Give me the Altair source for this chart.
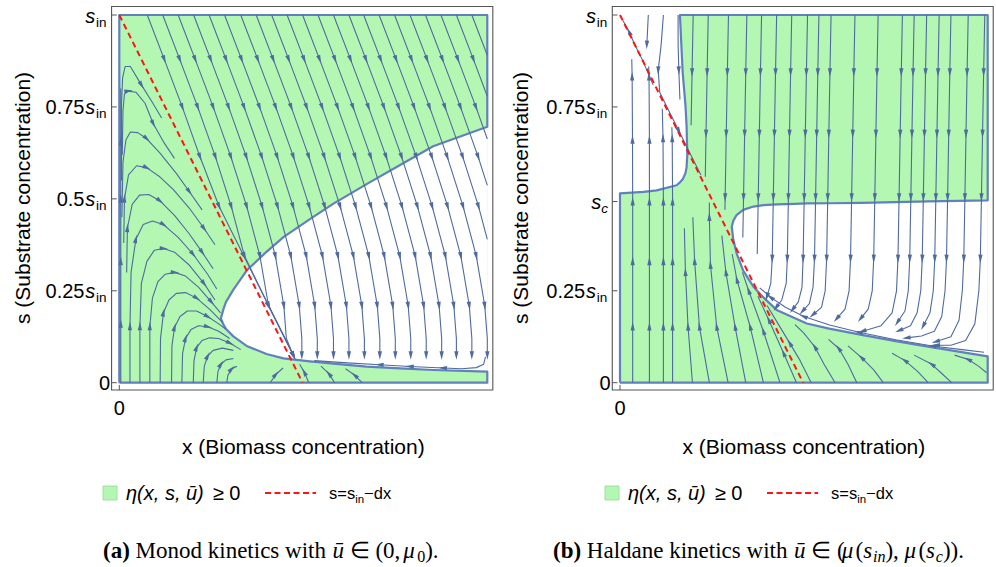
import math
import numpy as np
import pandas as pd
import altair as alt

SANS = "Liberation Sans"
SERIF = "Liberation Serif"
GREEN = "#b3f7b3"
EDGE = "#6180bd"
FLOW = "#4f6a9f"
RED = "#ff1414"
FRAME = "#555555"
ARROW_PATH = "M0,-1L0.45,0.8L-0.45,0.8Z"

# plot frame and the invariant line s = s_in - d x (x in units of x_max, s in units of s_in)
FRAME_X = [-0.021, 1.015]
FRAME_S = [-0.02, 1.023]
DILUTION_X = [0.0, 0.498]
DILUTION_S = [1.0, 0.0]

# ---------------- (a) Monod ----------------
# the white pocket where eta < 0: lower and upper branch over x
MONOD_HOLE_X = [0.276, 0.283, 0.29, 0.31, 0.346, 0.40, 0.446, 0.518, 0.582, 0.672, 0.763, 0.853, 1.0]
MONOD_HOLE_LO = [0.175, 0.158, 0.146, 0.126, 0.1, 0.078, 0.066, 0.058, 0.052, 0.0435, 0.039, 0.0345, 0.030]
MONOD_HOLE_HI = [0.175, 0.20, 0.22, 0.253, 0.305, 0.356, 0.396, 0.445, 0.487, 0.54, 0.592, 0.643, 0.696]

# streamlines entering from the top edge: start x and the common drift read along one of them
MONOD_TOP_X0 = [0.076, 0.118, 0.16, 0.202, 0.244, 0.286, 0.33, 0.372, 0.414, 0.456, 0.498,
                0.54, 0.582, 0.624, 0.664, 0.706, 0.748, 0.79, 0.832, 0.874, 0.916, 0.958]
MONOD_PROF_S = [1.0, 0.88, 0.75, 0.615, 0.48, 0.345, 0.21, 0.12, 0.075]
MONOD_PROF_DX = [0.0, 0.046, 0.095, 0.143, 0.186, 0.222, 0.245, 0.252, 0.252]
MONOD_PROF_ARROW = [0, 1, 1, 1, 1, 1, 1, 0, 1]

# arcs rising from the axis and bending toward the dilution line: (points, arrow indices)
MONOD_ARCS = [
    ([(0.004, 0.0), (0.004, 0.16), (0.004, 0.33), (0.004, 0.5), (0.004, 0.655), (0.004, 0.80)], [1, 2, 3, 4]),
    ([(0.006, 0.55), (0.006, 0.76), (0.009, 0.83), (0.016, 0.86), (0.03, 0.86), (0.06, 0.81), (0.09, 0.762), (0.115, 0.72)], [5]),
    ([(0.008, 0.62), (0.01, 0.74), (0.014, 0.785), (0.024, 0.793), (0.045, 0.79), (0.07, 0.76), (0.092, 0.705), (0.12, 0.655), (0.15, 0.61)], [3, 6]),
    ([(0.007, 0.45), (0.01, 0.6), (0.018, 0.66), (0.03, 0.682), (0.05, 0.68), (0.074, 0.664), (0.11, 0.625), (0.156, 0.568), (0.19, 0.52), (0.225, 0.47)], [5, 8]),
    ([(0.012, 0.38), (0.014, 0.5), (0.025, 0.565), (0.047, 0.59), (0.074, 0.585), (0.11, 0.56), (0.147, 0.525), (0.19, 0.475), (0.23, 0.42), (0.26, 0.375)], [1, 4, 8]),
    ([(0.02, 0.30), (0.022, 0.42), (0.035, 0.485), (0.055, 0.51), (0.08, 0.512), (0.11, 0.495), (0.15, 0.455), (0.19, 0.405), (0.225, 0.355), (0.255, 0.31)], [1, 5, 8]),
    ([(0.029, 0.0), (0.029, 0.153), (0.032, 0.30), (0.045, 0.39), (0.065, 0.43), (0.09, 0.44), (0.12, 0.43), (0.16, 0.395), (0.2, 0.35), (0.24, 0.295), (0.265, 0.255)], [1, 3, 6, 8]),
    ([(0.056, 0.0), (0.056, 0.153), (0.06, 0.27), (0.075, 0.33), (0.095, 0.36), (0.12, 0.365), (0.15, 0.355), (0.19, 0.32), (0.23, 0.27), (0.26, 0.225)], [1, 5, 8]),
    ([(0.083, 0.0), (0.083, 0.153), (0.09, 0.23), (0.105, 0.275), (0.125, 0.295), (0.15, 0.30), (0.18, 0.29), (0.215, 0.26), (0.25, 0.22), (0.275, 0.19)], [1, 5, 8]),
    ([(0.111, 0.0), (0.112, 0.12), (0.12, 0.19), (0.135, 0.225), (0.155, 0.243), (0.18, 0.245), (0.21, 0.23), (0.245, 0.2), (0.28, 0.165)], [2, 6]),
    ([(0.142, 0.0), (0.143, 0.1), (0.15, 0.15), (0.165, 0.18), (0.185, 0.195), (0.21, 0.195), (0.24, 0.18), (0.27, 0.16), (0.29, 0.145)], [2, 6]),
    ([(0.17, 0.0), (0.172, 0.08), (0.18, 0.12), (0.195, 0.145), (0.215, 0.155), (0.24, 0.152), (0.27, 0.14), (0.3, 0.12)], [2, 5]),
    ([(0.201, 0.0), (0.203, 0.06), (0.21, 0.095), (0.225, 0.115), (0.245, 0.122), (0.27, 0.12), (0.3, 0.108), (0.33, 0.09)], [2, 6]),
    ([(0.228, 0.0), (0.231, 0.045), (0.24, 0.072), (0.255, 0.088), (0.28, 0.094), (0.31, 0.088)], [2]),
    ([(0.265, 0.0), (0.268, 0.03), (0.276, 0.05), (0.29, 0.062), (0.31, 0.066)], [2]),
    ([(0.292, 0.0), (0.295, 0.02), (0.305, 0.037), (0.32, 0.045)], [2]),
    # thin band under the lower branch and the flow along it
    ([(0.41, 0.0), (0.425, 0.022), (0.445, 0.04)], [1]),
    ([(0.515, 0.0), (0.503, 0.028), (0.49, 0.05)], [1]),
    ([(0.585, 0.0), (0.57, 0.024), (0.548, 0.045)], [1]),
    ([(0.66, 0.0), (0.64, 0.02), (0.615, 0.038)], [1]),
    ([(0.995, 0.07), (0.99, 0.05), (0.97, 0.041), (0.93, 0.038), (0.88, 0.04), (0.79, 0.044), (0.708, 0.049), (0.62, 0.054), (0.53, 0.06)], [4, 5, 6]),
]

MONOD_TICK_S = [0.25, 0.5, 0.75, 1.0]
MONOD_TICK_NUM = ["0.25", "0.5", "0.75", ""]

# ---------------- (b) Haldane ----------------
HAL_HOLE_B_X = [0.304, 0.308, 0.317, 0.335, 0.363, 0.39, 0.426, 0.476, 0.508, 0.569, 0.657, 0.75, 0.838, 1.0]
HAL_HOLE_B_LO = [0.424, 0.39, 0.352, 0.305, 0.261, 0.232, 0.198, 0.175, 0.161, 0.147, 0.13, 0.113, 0.098, 0.0716]
HAL_HOLE_B_HI = [0.424, 0.44, 0.456, 0.47, 0.479, 0.483, 0.485, 0.4865, 0.4875, 0.488, 0.489, 0.491, 0.493, 0.496]
HAL_HOLE_A_X = [0.0, 0.064, 0.1, 0.154, 0.163, 0.1705, 0.178, 0.181, 0.183]
HAL_HOLE_A_LO = [0.515, 0.519, 0.523, 0.537, 0.545, 0.553, 0.57, 0.585, 0.62]
HAL_HOLE_A_HI = [1.0, 1.0, 1.0, 1.0, 1.0, 0.843, 0.755, 0.70, 0.62]

# nearly vertical streamlines from the top edge
HAL_TOP_X0 = [0.199, 0.24, 0.295, 0.345, 0.385, 0.426, 0.467, 0.51, 0.541, 0.574,
              0.639, 0.702, 0.768, 0.80, 0.834, 0.868, 0.90, 0.947, 0.992]
HAL_TOP_S = [1.0, 0.845, 0.678, 0.505, 0.338]
HAL_TOP_DRIFT = [0.0, 0.003, 0.006, 0.009, 0.012]
HAL_TOP_STOP = [0.70, 0.56, 0.47, 0.395, 0.35, 0.338, 0.338, 0.338, 0.338, 0.338,
                0.338, 0.338, 0.338, 0.338, 0.338, 0.338, 0.338, 0.338, 0.338]
HAL_TOP_TAIL = [
    [], [], [], [], [],
    [(0.41, 0.27), (0.40, 0.235)],
    [(0.452, 0.27), (0.44, 0.225), (0.425, 0.205)],
    [(0.495, 0.26), (0.485, 0.22), (0.47, 0.2)],
    [(0.525, 0.26), (0.515, 0.215), (0.497, 0.195)],
    [(0.558, 0.25), (0.548, 0.205), (0.525, 0.185)],
    [(0.623, 0.25), (0.612, 0.2), (0.59, 0.175)],
    [(0.686, 0.25), (0.675, 0.2), (0.655, 0.175)],
    [(0.752, 0.25), (0.74, 0.19), (0.71, 0.155), (0.66, 0.14)],
    [(0.784, 0.25), (0.775, 0.195), (0.755, 0.165)],
    [(0.818, 0.25), (0.808, 0.19), (0.79, 0.155), (0.76, 0.142)],
    [(0.852, 0.25), (0.843, 0.19), (0.825, 0.155)],
    [(0.884, 0.25), (0.875, 0.18), (0.855, 0.14), (0.82, 0.127), (0.78, 0.122)],
    [(0.931, 0.25), (0.922, 0.17), (0.9, 0.125), (0.86, 0.112)],
    [(0.976, 0.25), (0.965, 0.16), (0.94, 0.115), (0.9, 0.102), (0.86, 0.102)],
]

HAL_OTHER = [
    ([(0.0345, 0.0), (0.0345, 0.152), (0.0345, 0.33), (0.0345, 0.492), (0.034, 0.66), (0.033, 0.832), (0.032, 0.88)], [1, 2, 3, 4, 5]),
    ([(0.08, 0.0), (0.08, 0.152), (0.08, 0.33), (0.08, 0.492), (0.08, 0.66), (0.079, 0.832), (0.078, 0.86)], [1, 2, 3, 4, 5]),
    ([(0.118, 0.0), (0.118, 0.152), (0.118, 0.33), (0.118, 0.492), (0.117, 0.664), (0.115, 0.745)], [1, 2, 3, 4]),
    ([(0.143, 0.0), (0.143, 0.152), (0.143, 0.33), (0.143, 0.492), (0.142, 0.664), (0.141, 0.695)], [1, 2, 3, 4]),
    ([(0.197, 0.0), (0.185, 0.152), (0.178, 0.30), (0.175, 0.42)], [1, 2]),
    ([(0.243, 0.0), (0.216, 0.152), (0.203, 0.33), (0.198, 0.45)], [1, 2]),
    ([(0.294, 0.0), (0.263, 0.152), (0.246, 0.32), (0.243, 0.45), (0.243, 0.49)], [1, 2, 3]),
    ([(0.342, 0.0), (0.313, 0.152), (0.288, 0.30), (0.277, 0.40)], [1, 2]),
    ([(0.39, 0.0), (0.354, 0.152), (0.318, 0.28), (0.305, 0.35)], [1, 2]),
    ([(0.435, 0.0), (0.39, 0.14), (0.35, 0.25), (0.333, 0.30)], [1, 2]),
    ([(0.48, 0.0), (0.445, 0.08), (0.405, 0.17), (0.375, 0.235)], [1, 2]),
    ([(0.52, 0.0), (0.49, 0.06), (0.462, 0.107), (0.43, 0.16), (0.40, 0.21)], [2]),
    ([(0.585, 0.0), (0.555, 0.05), (0.53, 0.097), (0.5, 0.135), (0.476, 0.158)], [2]),
    ([(0.644, 0.0), (0.62, 0.05), (0.595, 0.093), (0.567, 0.118)], [2]),
    ([(0.716, 0.0), (0.69, 0.035), (0.657, 0.068), (0.62, 0.1)], [2]),
    ([(0.838, 0.0), (0.81, 0.03), (0.775, 0.06), (0.74, 0.08)], [2]),
    ([(0.902, 0.0), (0.875, 0.025), (0.848, 0.05), (0.80, 0.075)], [2]),
    ([(0.997, 0.027), (0.975, 0.045), (0.947, 0.063), (0.91, 0.075)], [2]),
    ([(0.99, 0.083), (0.93, 0.09), (0.85, 0.1), (0.75, 0.117), (0.65, 0.137), (0.57, 0.157), (0.5, 0.18), (0.45, 0.205), (0.41, 0.232), (0.38, 0.258)], [2, 4, 6, 8]),
    ([(0.077, 1.0), (0.075, 0.96), (0.073, 0.92)], [2]),
    ([(0.118, 1.0), (0.112, 0.92), (0.104, 0.85), (0.108, 0.79), (0.13, 0.745), (0.16, 0.685), (0.19, 0.625), (0.22, 0.565)], [2, 5]),
    ([(0.158, 1.0), (0.158, 0.92), (0.16, 0.85), (0.163, 0.77)], [2]),
    ([(0.09, 0.81), (0.06, 0.88), (0.04, 0.92), (0.025, 0.954), (0.008, 0.985)], [3]),
]

HAL_TICK_S = [0.25, 0.75, 1.0]
HAL_TICK_NUM = ["0.25", "0.75", ""]
HAL_SC = [0.4927]

X_TITLE = "x (Biomass concentration)"
Y_TITLE = "s (Substrate concentration)"
CAPTION_A = [("(a)", "normal", "bold", 1.0, 0), (" Monod kinetics with ", "normal", "normal", 1.0, 0),
             ("ū", "italic", "normal", 1.0, 0), (" ∈ (0, ", "normal", "normal", 1.0, 0),
             ("μ", "italic", "normal", 1.0, 0), ("0", "normal", "normal", 0.7, 4), (").", "normal", "normal", 1.0, 0)]
CAPTION_B = [("(b)", "normal", "bold", 1.0, 0), (" Haldane kinetics with ", "normal", "normal", 1.0, 0),
             ("ū", "italic", "normal", 1.0, 0), (" ∈ (", "normal", "normal", 1.0, 0),
             ("μ", "italic", "normal", 1.0, 0), ("(", "normal", "normal", 1.0, 0),
             ("s", "italic", "normal", 1.0, 0), ("in", "italic", "normal", 0.7, 4),
             ("), ", "normal", "normal", 1.0, 0), ("μ", "italic", "normal", 1.0, 0),
             ("(", "normal", "normal", 1.0, 0), ("s", "italic", "normal", 1.0, 0),
             ("c", "italic", "normal", 0.7, 4), (")).", "normal", "normal", 1.0, 0)]

# approximate advance widths (em) used to butt mixed-style text runs together
SERIF_EM = {" ": 0.25, "(": 0.333, ")": 0.333, ",": 0.25, ".": 0.25, "0": 0.5, "a": 0.444, "b": 0.5,
            "c": 0.444, "d": 0.5, "e": 0.444, "h": 0.5, "i": 0.278, "k": 0.5, "l": 0.278, "n": 0.5,
            "o": 0.5, "s": 0.42, "t": 0.278, "w": 0.722, "M": 0.889, "H": 0.722, "∈": 0.75,
            "μ": 0.6, "ū": 0.5}
SERIF_BOLD_EM = {"(": 0.333, ")": 0.333, "a": 0.5, "b": 0.556}
SANS_EM = {" ": 0.278, "(": 0.333, ")": 0.333, ",": 0.278, "x": 0.5, "s": 0.5, "η": 0.556,
           "ū": 0.556, "≥": 0.584, "0": 0.556, "=": 0.584, "i": 0.222, "n": 0.556, "−": 0.584, "d": 0.556}


def text_width(text, size, table, fallback=0.5):
    return sum(table.get(ch, fallback) for ch in text) * size


def red_x(s):
    return DILUTION_X[1] * (1.0 - s)


def monod_top_lines():
    lines = []
    for x0 in MONOD_TOP_X0:
        pts, arr = [], []
        for k, (s, dx) in enumerate(zip(MONOD_PROF_S, MONOD_PROF_DX)):
            x = max(x0 + dx, red_x(s) + 0.012)
            if x >= MONOD_HOLE_X[0] and s < np.interp(x, MONOD_HOLE_X, MONOD_HOLE_LO) + 0.006:
                break
            if x > 1.0:
                px, ps = pts[-1]
                t = (1.0 - px) / (x - px)
                pts.append((1.0, ps + t * (s - ps)))
                break
            pts.append((x, s))
            if MONOD_PROF_ARROW[k]:
                arr.append(len(pts) - 1)
        lines.append((pts, arr))
    return lines


def haldane_top_lines():
    lines = []
    for x0, stop, tail in zip(HAL_TOP_X0, HAL_TOP_STOP, HAL_TOP_TAIL):
        pts, arr = [], []
        for k, (s, d) in enumerate(zip(HAL_TOP_S, HAL_TOP_DRIFT)):
            if s < stop - 1e-9:
                break
            pts.append((x0 - d, s))
            if k > 0:
                arr.append(len(pts) - 1)
        if pts[-1][1] > stop + 1e-9:
            d = float(np.interp(-stop, [-v for v in HAL_TOP_S], HAL_TOP_DRIFT))
            pts.append((x0 - d, stop))
        pts.extend(tail)
        if tail:
            arr.append(len(pts) - 1)
        lines.append((pts, arr))
    return lines


def line_frames(lines):
    rows, arrows = [], []
    for i, (pts, arr) in enumerate(lines):
        for k, (x, s) in enumerate(pts):
            rows.append({"id": i, "k": k, "x": x, "s": s})
        for a in arr:
            a0, a1 = max(a - 1, 0), min(a + 1, len(pts) - 1)
            dx = pts[a1][0] - pts[a0][0]
            ds = pts[a1][1] - pts[a0][1]
            ang = math.degrees(math.atan2(dx, ds)) % 360.0
            arrows.append({"x": pts[a][0], "s": pts[a][1], "ang": ang})
    return pd.DataFrame(rows), pd.DataFrame(arrows)


def one(text, x, y, size, font=SANS, align="center", baseline="alphabetic",
        style="normal", weight="normal", angle=0, color="black"):
    return alt.Chart(pd.DataFrame({"t": [text]})).mark_text(
        align=align, baseline=baseline, fontSize=size, font=font, fontStyle=style,
        fontWeight=weight, angle=angle, color=color
    ).encode(x=alt.value(x), y=alt.value(y), text="t:N")


def runs(parts, x_start, y_base, size):
    out = []
    x = x_start
    for text, style, weight, rel, dy in parts:
        fs = size * rel
        table = SERIF_BOLD_EM if weight == "bold" else SERIF_EM
        lead = len(text) - len(text.lstrip(" "))
        shown = text.strip(" ")
        xs = x + text_width(text[:lead], fs, table)
        out.append(one(shown, xs, y_base + dy, fs, font=SERIF, align="left",
                       style=style, weight=weight))
        x += text_width(text, fs, table)
    return out


def panel(p):
    xs = alt.Scale(domain=[0, 1], range=p["xr"], nice=False, zero=False)
    ys = alt.Scale(domain=[0, 1], range=[382.7, 15.0], nice=False, zero=False)

    def ex(f):
        return alt.X(f"{f}:Q", scale=xs, axis=None)

    def ey(f):
        return alt.Y(f"{f}:Q", scale=ys, axis=None)

    ox = p["ox"]
    layers = []

    frame_df = pd.DataFrame({"x": [FRAME_X[0]], "x2": [FRAME_X[1]], "s": [FRAME_S[0]], "s2": [FRAME_S[1]]})
    layers.append(alt.Chart(frame_df).mark_rect(fill="white", stroke=FRAME, strokeWidth=1.1)
                  .encode(x=ex("x"), x2=alt.X2("x2"), y=ey("s"), y2=alt.Y2("s2")))

    box = pd.DataFrame({"x": [0.0], "x2": [1.0], "s": [0.0], "s2": [1.0]})
    layers.append(alt.Chart(box).mark_rect(color=GREEN, opacity=1)
                  .encode(x=ex("x"), x2=alt.X2("x2"), y=ey("s"), y2=alt.Y2("s2")))

    holes = []
    for h, (hx, lo, hi) in enumerate(p["holes"]):
        for a, b, c in zip(hx, lo, hi):
            holes.append({"hole": h, "x": a, "lo": b, "hi": c})
    layers.append(alt.Chart(pd.DataFrame(holes)).mark_area(color="white", opacity=1, interpolate="linear")
                  .encode(x=ex("x"), y=ey("lo"), y2=alt.Y2("hi"), detail="hole:N"))

    outline = pd.DataFrame([{"k": k, "x": x, "s": s} for k, (x, s) in enumerate(p["outline"])])
    layers.append(alt.Chart(outline).mark_line(color=EDGE, strokeWidth=2.2, strokeJoin="round")
                  .encode(x=ex("x"), y=ey("s"), order="k:Q"))

    lines_df, arrows_df = line_frames(p["lines"])
    layers.append(alt.Chart(lines_df).mark_line(color=FLOW, strokeWidth=1.1, strokeJoin="round")
                  .encode(x=ex("x"), y=ey("s"), detail="id:N", order="k:Q"))
    layers.append(alt.Chart(arrows_df).mark_point(shape=ARROW_PATH, filled=True, size=90, color=FLOW,
                                                  opacity=1, strokeWidth=0)
                  .encode(x=ex("x"), y=ey("s"), angle=alt.Angle("ang:Q", scale=None)))

    red = pd.DataFrame({"k": [0, 1], "x": DILUTION_X, "s": DILUTION_S})
    layers.append(alt.Chart(red).mark_line(color=RED, strokeWidth=2.0, strokeDash=[6, 4])
                  .encode(x=ex("x"), y=ey("s"), order="k:Q"))

    # inward frame ticks
    tick_s = [0.0] + p["tick_s"] + p["sc"]
    yt = pd.DataFrame({"s": tick_s, "x": [FRAME_X[0]] * len(tick_s), "x2": [FRAME_X[0] + 0.014] * len(tick_s)})
    layers.append(alt.Chart(yt).mark_rule(color=FRAME, strokeWidth=1)
                  .encode(x=ex("x"), x2=alt.X2("x2"), y=ey("s")))
    xt = pd.DataFrame({"x": [0.0], "s": [FRAME_S[0]], "s2": [FRAME_S[0] + 0.014]})
    layers.append(alt.Chart(xt).mark_rule(color=FRAME, strokeWidth=1)
                  .encode(x=ex("x"), y=ey("s"), y2=alt.Y2("s2")))

    # y tick labels: number, italic s, subscript
    lab = pd.DataFrame({"s": p["tick_s"], "num": p["tick_num"]})
    layers.append(alt.Chart(lab).mark_text(align="right", baseline="alphabetic", dy=7.5, fontSize=20, font=SANS)
                  .encode(x=alt.value(84.5 + ox), y=ey("s"), text="num:N"))
    layers.append(alt.Chart(lab.assign(sym="s")).mark_text(align="left", baseline="alphabetic", dy=7.5,
                                                            fontSize=20, font=SANS, fontStyle="italic")
                  .encode(x=alt.value(85.2 + ox), y=ey("s"), text="sym:N"))
    layers.append(alt.Chart(lab.assign(sub="in")).mark_text(align="left", baseline="alphabetic", dy=11.5,
                                                             fontSize=13.5, font=SANS)
                  .encode(x=alt.value(96.0 + ox), y=ey("s"), text="sub:N"))
    zero = pd.DataFrame({"s": [0.0], "t": ["0"]})
    layers.append(alt.Chart(zero).mark_text(align="right", baseline="alphabetic", dy=7.5, fontSize=20, font=SANS)
                  .encode(x=alt.value(110 + ox), y=ey("s"), text="t:N"))
    if p["sc"]:
        sc = pd.DataFrame({"s": p["sc"], "a": ["s"], "b": ["c"]})
        layers.append(alt.Chart(sc).mark_text(align="left", baseline="alphabetic", dy=7.5, fontSize=20,
                                              font=SANS, fontStyle="italic")
                      .encode(x=alt.value(90.5 + ox), y=ey("s"), text="a:N"))
        layers.append(alt.Chart(sc).mark_text(align="left", baseline="alphabetic", dy=11.5, fontSize=13.5,
                                              font=SANS, fontStyle="italic")
                      .encode(x=alt.value(100.5 + ox), y=ey("s"), text="b:N"))

    x0px = p["xr"][0]
    layers.append(one("0", x0px, 415, 20))
    layers.append(one(X_TITLE, (p["xr"][0] + p["xr"][1]) / 2, 454, 21))
    layers.append(one(Y_TITLE, 23.5, 198, 21, baseline="middle", angle=270))

    # legend row
    lx = p["lx"]
    sw = pd.DataFrame({"a": [1]})
    layers.append(alt.Chart(sw).mark_rect(color=GREEN, stroke="#93d893", strokeWidth=0.8)
                  .encode(x=alt.value(lx), x2=alt.value(lx + 14), y=alt.value(486), y2=alt.value(500)))
    eta = "η(x, s, ū)"
    layers.append(one(eta, lx + 23, 500, 20, align="left", style="italic"))
    ge_x = lx + 23 + text_width(eta, 20, SANS_EM) + 9
    layers.append(one("≥ 0", ge_x, 500, 20, align="left"))
    layers.append(alt.Chart(sw).mark_rule(color=RED, strokeWidth=2, strokeDash=[6, 3.5])
                  .encode(x=alt.value(lx + 162), x2=alt.value(lx + 213), y=alt.value(493)))
    sx = lx + 226
    layers.append(one("s=s", sx, 499, 16.5, align="left"))
    sx2 = sx + text_width("s=s", 16.5, SANS_EM)
    layers.append(one("in", sx2, 502.5, 11.5, align="left"))
    sx3 = sx2 + text_width("in", 11.5, SANS_EM)
    layers.append(one("−dx", sx3, 499, 16.5, align="left"))

    layers.extend(runs(p["caption"], p["cx"], 558, 23))

    return alt.layer(*layers).properties(width=498, height=567)


monod_outline = ([(0.0, 0.0), (1.0, 0.0)] + list(zip(MONOD_HOLE_X[::-1], MONOD_HOLE_LO[::-1]))
                 + list(zip(MONOD_HOLE_X[1:], MONOD_HOLE_HI[1:])) + [(1.0, 1.0), (0.0, 1.0), (0.0, 0.0)])

hal_outline = ([(0.0, 0.0), (1.0, 0.0)] + list(zip(HAL_HOLE_B_X[::-1], HAL_HOLE_B_LO[::-1]))
               + list(zip(HAL_HOLE_B_X[1:], HAL_HOLE_B_HI[1:])) + [(1.0, 1.0)]
               + list(zip(HAL_HOLE_A_X[4:], HAL_HOLE_A_HI[4:]))
               + list(zip(HAL_HOLE_A_X[:8][::-1], HAL_HOLE_A_LO[:8][::-1])) + [(0.0, 0.0)])

panel_a = panel({
    "xr": [119.3, 487.3], "ox": 0.0, "lx": 103, "cx": 103,
    "holes": [(MONOD_HOLE_X, MONOD_HOLE_LO, MONOD_HOLE_HI)],
    "outline": monod_outline,
    "lines": monod_top_lines() + MONOD_ARCS,
    "tick_s": MONOD_TICK_S, "tick_num": MONOD_TICK_NUM, "sc": [],
    "caption": CAPTION_A,
})

panel_b = panel({
    "xr": [122.0, 489.7], "ox": 2.7, "lx": 107, "cx": 55,
    "holes": [(HAL_HOLE_A_X, HAL_HOLE_A_LO, HAL_HOLE_A_HI), (HAL_HOLE_B_X, HAL_HOLE_B_LO, HAL_HOLE_B_HI)],
    "outline": hal_outline,
    "lines": haldane_top_lines() + HAL_OTHER,
    "tick_s": HAL_TICK_S, "tick_num": HAL_TICK_NUM, "sc": HAL_SC,
    "caption": CAPTION_B,
})

chart = alt.hconcat(panel_a, panel_b, spacing=0).properties(
    padding=0, background="white"
).configure_view(stroke=None)

chart.save("out.html", embed_options={"renderer": "svg", "actions": False})
